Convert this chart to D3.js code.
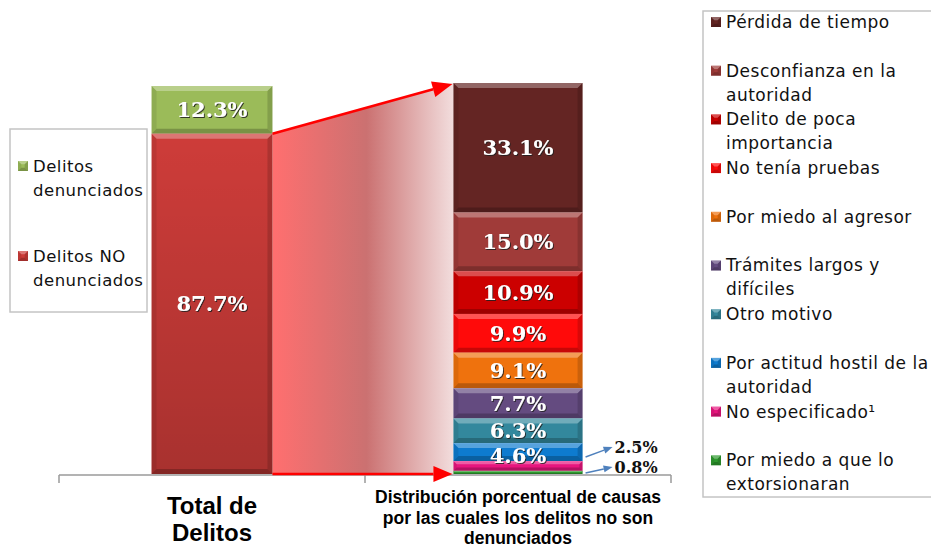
<!DOCTYPE html>
<html>
<head>
<meta charset="utf-8">
<script src="https://cdn.jsdelivr.net/npm/d3@7"></script>
<style>
  body { margin: 0; background: #fff; }
  svg { display: block; }
</style>
</head>
<body>
<svg id="drawing_region"></svg>
<script>
// categories on the x axis
const categories = [
  "Total de\nDelitos",
  "Distribución porcentual de causas\npor las cuales los delitos no son\ndenunciados"
];

// left bar (top to bottom)
const totalLabels = ["Delitos\ndenunciados", "Delitos NO\ndenunciados"];
const totalValues = [12.3, 87.7];
const totalColors = ["#9bbb59", "#cd3c39"];

// right bar (top to bottom)
const causes = [
  "Pérdida de tiempo",
  "Desconfianza en la\nautoridad",
  "Delito de poca\nimportancia",
  "No tenía pruebas",
  "Por miedo al agresor",
  "Trámites largos y\ndifíciles",
  "Otro motivo",
  "Por actitud hostil de la\nautoridad",
  "No especificado¹",
  "Por miedo a que lo\nextorsionaran"
];
const causeValues = [33.1, 15.0, 10.9, 9.9, 9.1, 7.7, 6.3, 4.6, 2.5, 0.8];
const causeColors = ["#642523", "#a03b39", "#cc0000", "#ff0a0a", "#ef720d",
                     "#644b80", "#33889d", "#0e7bcf", "#e8157e", "#2e9a2e"];

const W = 931, H = 548;
const svg = d3.select("#drawing_region").attr("width", W).attr("height", H);
const defs = svg.append("defs");

const shadow = defs.append("filter").attr("id", "tshadow")
    .attr("x", "-20%").attr("y", "-20%").attr("width", "140%").attr("height", "140%");
shadow.append("feDropShadow").attr("dx", 1).attr("dy", 1)
    .attr("stdDeviation", 0.6).attr("flood-color", "#222").attr("flood-opacity", 0.85);

const band = defs.append("linearGradient").attr("id", "bandGrad")
    .attr("x1", "0%").attr("x2", "100%").attr("y1", "0%").attr("y2", "0%");
band.append("stop").attr("offset", "0%").attr("stop-color", "#ff6f6f");
band.append("stop").attr("offset", "52%").attr("stop-color", "#cb7171");
band.append("stop").attr("offset", "100%").attr("stop-color", "#f2dddd");

// scales
const x = d3.scaleBand().domain(categories).range([59, 671]);
const yL = d3.scaleLinear().domain([0, d3.sum(totalValues)]).range([86, 474]);
const yR = d3.scaleLinear().domain([0, d3.sum(causeValues)]).range([83, 474]);

const leftW = x.bandwidth() * 0.395, rightW = x.bandwidth() * 0.422;
const xL0 = x(categories[0]) + x.bandwidth() / 2 - leftW / 2, xL1 = xL0 + leftW;
const xR0 = x(categories[1]) + x.bandwidth() / 2 - rightW / 2, xR1 = xR0 + rightW;

function stack(vals) {
  let c = 0;
  return vals.map((v, i) => { const s = { v, i, y0: c, y1: c + v }; c += v; return s; });
}

// beveled segment, excel style
function bevel(g, x0, y0, w, h, color) {
  const b = Math.max(1, Math.min(5, h / 3));
  g.append("rect").attr("x", x0).attr("y", y0).attr("width", w).attr("height", h).attr("fill", color);
  const poly = (pts, fill, op) => g.append("polygon")
      .attr("points", pts.map(p => p.join(",")).join(" "))
      .attr("fill", fill).attr("fill-opacity", op);
  poly([[x0, y0], [x0 + w, y0], [x0 + w - b, y0 + b], [x0 + b, y0 + b]], "#fff", 0.3);
  poly([[x0, y0 + h], [x0 + w, y0 + h], [x0 + w - b, y0 + h - b], [x0 + b, y0 + h - b]], "#000", 0.22);
  poly([[x0, y0], [x0 + b, y0 + b], [x0 + b, y0 + h - b], [x0, y0 + h]], "#000", 0.08);
  poly([[x0 + w, y0], [x0 + w - b, y0 + b], [x0 + w - b, y0 + h - b], [x0 + w, y0 + h]], "#000", 0.15);
}

function arrow(x1, y1, x2, y2, color, sw, hl, hw) {
  const a = Math.atan2(y2 - y1, x2 - x1);
  const bx = x2 - hl * Math.cos(a), by = y2 - hl * Math.sin(a);
  svg.append("line").attr("x1", x1).attr("y1", y1).attr("x2", bx).attr("y2", by)
      .attr("stroke", color).attr("stroke-width", sw);
  const px = -Math.sin(a) * hw / 2, py = Math.cos(a) * hw / 2;
  svg.append("polygon")
      .attr("points", `${x2},${y2} ${bx + px},${by + py} ${bx - px},${by - py}`)
      .attr("fill", color);
}

// gradient band between the bars
const topL = yL(totalValues[0]);
svg.append("polygon")
    .attr("points", [[xL1, topL], [xR0, yR(0)], [xR0, yR.range()[1]], [xL1, yL.range()[1]]]
      .map(p => p.join(",")).join(" "))
    .attr("fill", "url(#bandGrad)");

// axis
const axisY = 475;
const bounds = [x.range()[0], x(categories[1]), x.range()[1]];
svg.append("line").attr("x1", bounds[0]).attr("x2", bounds[2])
    .attr("y1", axisY).attr("y2", axisY).attr("stroke", "#9a9a9a").attr("stroke-width", 1.5);
svg.selectAll(".tick").data(bounds).enter().append("line")
    .attr("x1", d => d).attr("x2", d => d).attr("y1", axisY).attr("y2", axisY + 8)
    .attr("stroke", "#9a9a9a").attr("stroke-width", 1.5);

// left bar
const gL = svg.append("g");
stack(totalValues).forEach(s => bevel(gL, xL0, yL(s.y0), leftW, yL(s.y1) - yL(s.y0), totalColors[s.i]));
// subtle darkening toward the bottom of the red segment
const redGrad = defs.append("linearGradient").attr("id", "redShade")
    .attr("x1", 0).attr("x2", 0).attr("y1", 0).attr("y2", 1);
redGrad.append("stop").attr("offset", "0%").attr("stop-color", "#000").attr("stop-opacity", 0);
redGrad.append("stop").attr("offset", "100%").attr("stop-color", "#000").attr("stop-opacity", 0.18);
gL.append("rect").attr("x", xL0).attr("y", topL + 5).attr("width", leftW)
    .attr("height", yL.range()[1] - topL - 5).attr("fill", "url(#redShade)");

gL.selectAll("text").data(stack(totalValues)).enter().append("text")
    .attr("x", xL0 + leftW / 2).attr("y", d => (yL(d.y0) + yL(d.y1)) / 2)
    .attr("text-anchor", "middle").attr("dy", "0.35em")
    .attr("font-family", "DejaVu Serif").attr("font-weight", "bold").attr("font-size", 21)
    .attr("fill", "#fff").attr("filter", "url(#tshadow)")
    .text(d => d3.format(".1f")(d.v) + "%");

// arrows
arrow(xL1, topL, xR0 - 1, yR(0) + 1, "#ff0000", 2.5, 20, 16);
arrow(xL1, yL.range()[1], xR0 - 1, yL.range()[1], "#ff0000", 2.5, 19, 16);

// right bar
const gR = svg.append("g");
const rs = stack(causeValues);
rs.forEach(s => bevel(gR, xR0, yR(s.y0), rightW, yR(s.y1) - yR(s.y0), causeColors[s.i]));

// labels of thin segments sit a little low, as in the original
gR.selectAll("text.in").data(rs.filter(d => d.v >= 4)).enter().append("text")
    .attr("x", xR0 + rightW / 2)
    .attr("y", d => (yR(d.y0) + yR(d.y1)) / 2 + (d.v < 5 ? 4 : 0))
    .attr("text-anchor", "middle").attr("dy", "0.35em")
    .attr("font-family", "DejaVu Serif").attr("font-weight", "bold").attr("font-size", 21)
    .attr("fill", "#fff").attr("filter", "url(#tshadow)")
    .text(d => d3.format(".1f")(d.v) + "%");

// small segments: labels outside with arrows
const small = rs.filter(d => d.v < 4);
small.forEach((d, k) => {
  const ly = yR.range()[1] - 27 + k * 20;
  const sy = yR.range()[1] - 17 + k * 16;
  arrow(xR1 + 3, sy, xR1 + 30, ly, "#4f81bd", 1.5, 9, 7);
  svg.append("text").attr("x", xR1 + 32).attr("y", ly).attr("dy", "0.35em")
      .attr("font-family", "DejaVu Serif").attr("font-weight", "bold").attr("font-size", 16)
      .attr("fill", "#111")
      .text(d3.format(".1f")(d.v) + "%");
});

// category labels
const catSizes = [24, 17.5], catLH = [27, 20.5], catY = [506, 497];
categories.forEach((c, i) => {
  const t = svg.append("text").attr("text-anchor", "middle")
      .attr("font-family", "Liberation Sans").attr("font-weight", "bold")
      .attr("font-size", catSizes[i]).attr("fill", "#000");
  c.split("\n").forEach((line, j) => {
    t.append("tspan").attr("x", x(c) + x.bandwidth() / 2)
        .attr("y", catY[i] + j * catLH[i]).attr("dy", "0.35em").text(line);
  });
});

// legends
function legend(box, items, colors, y0, step, fs) {
  svg.append("rect").attr("x", box[0]).attr("y", box[1]).attr("width", box[2]).attr("height", box[3])
      .attr("fill", "#fff").attr("stroke", "#c4c4c4").attr("stroke-width", 1.5);
  items.forEach((name, i) => {
    const cy = y0 + i * step;
    const g = svg.append("g");
    bevel(g, box[0] + 8, cy - 5, 10, 10, colors[i]);
    const t = svg.append("text").attr("font-family", "DejaVu Sans").attr("font-size", fs)
        .attr("letter-spacing", 0.5).attr("fill", "#111");
    name.split("\n").forEach((line, j) => {
      t.append("tspan").attr("x", box[0] + 23).attr("y", cy + j * 24).attr("dy", "0.35em").text(line);
    });
  });
}
legend([10, 129, 137, 183], totalLabels, totalColors, 166, 90, 16.5);
legend([703, 11, 240, 486], causes, causeColors, 22, 48.7, 17);
</script>
</body>
</html>
